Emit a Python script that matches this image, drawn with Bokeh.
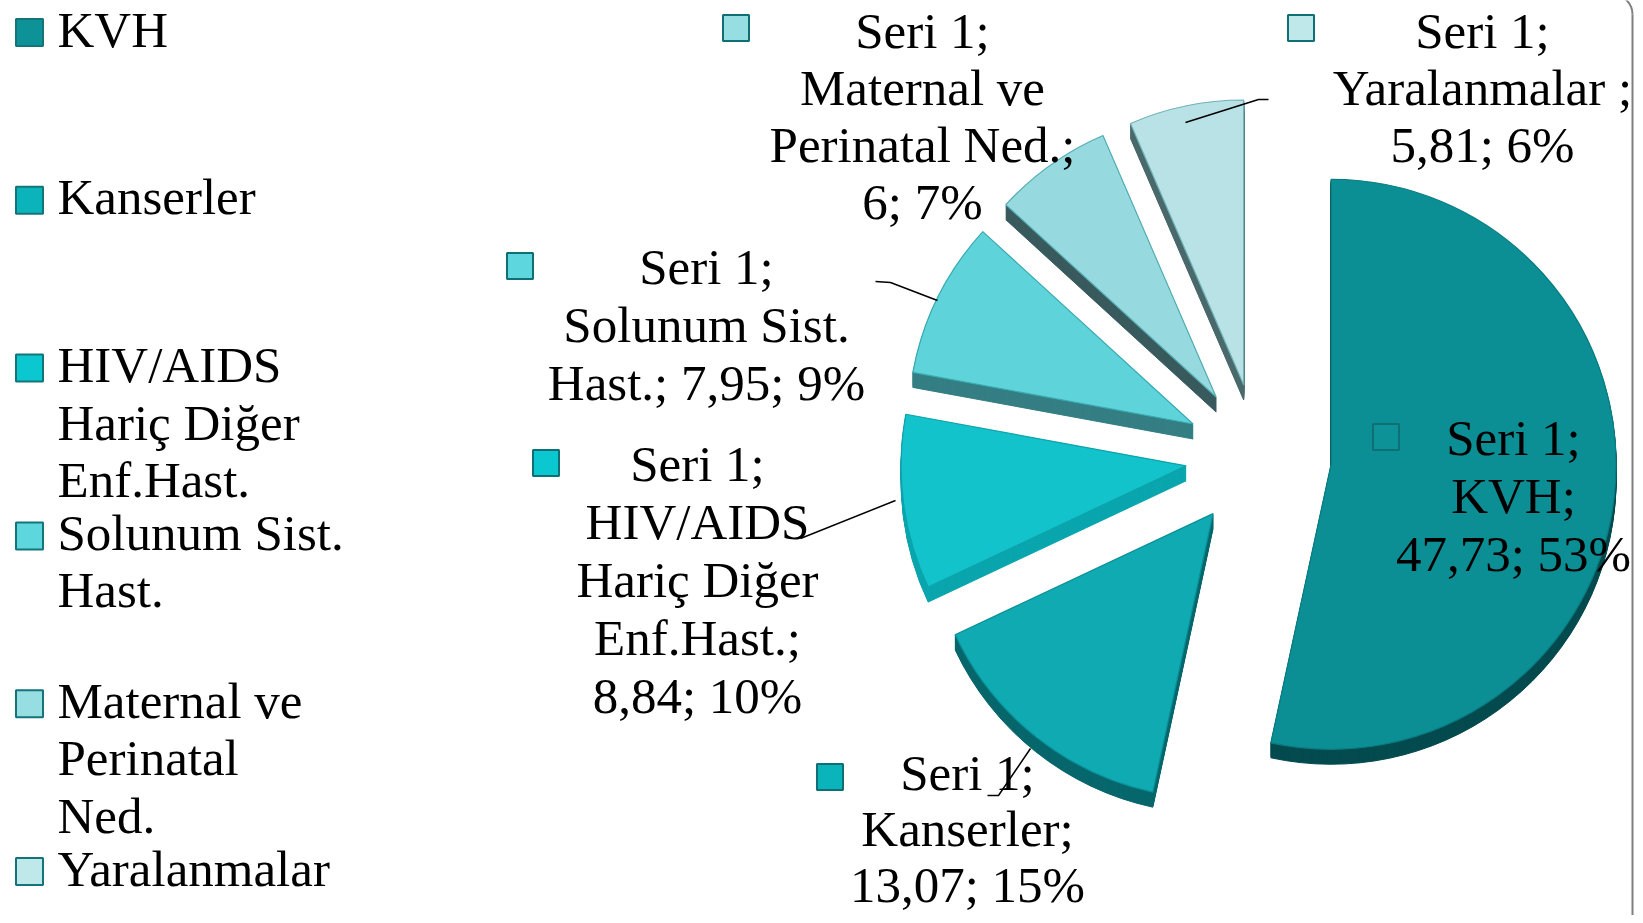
import math
from bokeh.plotting import figure
from bokeh.models import Range1d, ColumnDataSource
from bokeh.core.properties import value
from bokeh.embed import file_html
from bokeh.resources import INLINE

# ---------------- data ----------------
categories = ["KVH", "Kanserler", "HIV/AIDS Hariç Diğer Enf.Hast.",
              "Solunum Sist. Hast.", "Maternal ve Perinatal Ned.", "Yaralanmalar"]
values = [47.73, 13.07, 8.84, 7.95, 6.0, 5.81]
series_name = "Seri 1"
legend_lines = [["KVH"], ["Kanserler"], ["HIV/AIDS", "Hariç Diğer", "Enf.Hast."],
                ["Solunum Sist.", "Hast."], ["Maternal ve", "Perinatal", "Ned."],
                ["Yaralanmalar"]]
label_templates = ["{s};\nKVH;\n{v}; {p}%",
                   "{s};\nKanserler;\n{v}; {p}%",
                   "{s};\nHIV/AIDS\nHariç Diğer\nEnf.Hast.;\n{v}; {p}%",
                   "{s};\nSolunum Sist.\nHast.; {v}; {p}%",
                   "{s};\nMaternal ve\nPerinatal Ned.;\n{v}; {p}%",
                   "{s};\nYaralanmalar ;\n{v}; {p}%"]

# ---------------- styles ----------------
top_colors = ["#0b8e94", "#0faab2", "#13c3cb", "#5fd3da", "#96dadf", "#b8e2e6"]
side_colors = ["#044b4f", "#07676c", "#0aa6ae", "#357f84", "#3a5b5e", "#4b6a6c"]
edge_colors = ["#0a7d83", "#0b8f96", "#0da3ab", "#3aaab1", "#56aeb3", "#6fb2b7"]
legend_colors = ["#0d9397", "#0bb4bb", "#0bc8d0", "#5dd7dd", "#97dee3", "#bfe8eb"]
FONT = value("Liberation Serif")
FS = "51px"
MID = 17   # baseline -> text middle

# layout (reference pixel coordinates)
W, H = 1635, 915
PIE_CX, PIE_CY = 1258, 456
R = 285
EXPLODE = 73
DEPTH = 15
label_pos = [(1513, 454), (967, 789), (697, 480), (706, 283), (922, 47), (1482, 47)]
label_step = [58, 56, 58, 58, 57, 57]
label_sq = [(1372, 423), (816, 763), (532, 449), (506, 252), (722, 14), (1287, 14)]
leaders = [[], [(987, 795), (998, 795), (1030, 748)], [(800, 538), (895, 500)],
           [(875, 281), (890, 282), (937, 300)], [],
           [(1185, 122), (1258, 99), (1268, 99)]]

p = figure(width=W, height=H, x_range=Range1d(0, W),
           y_range=Range1d(-H, 0), output_backend="svg",
           toolbar_location=None, min_border=0, x_axis_type=None, y_axis_type=None)
p.grid.visible = False
p.outline_line_color = None
p.background_fill_color = "white"

# ---------------- pie ----------------
total = sum(values)
starts, ends, mids = [], [], []
acc = 0.0
for v in values:
    a0 = acc / total * 360.0
    acc += v
    a1 = acc / total * 360.0
    starts.append(a0); ends.append(a1); mids.append((a0 + a1) / 2)

cx = [PIE_CX + EXPLODE * math.sin(math.radians(m)) for m in mids]
cy = [-PIE_CY + EXPLODE * math.cos(math.radians(m)) for m in mids]
sa = [math.radians(90 - e) for e in ends]
ea = [math.radians(90 - s) for s in starts]

side = dict(x=[], y=[], sa=[], ea=[], c=[])
for d in range(DEPTH, 0, -1):
    for i in range(len(values)):
        side["x"].append(cx[i]); side["y"].append(cy[i] - d)
        side["sa"].append(sa[i]); side["ea"].append(ea[i]); side["c"].append(side_colors[i])
p.wedge(x="x", y="y", radius=R, start_angle="sa", end_angle="ea", source=ColumnDataSource(side),
        fill_color="c", line_color="c", line_width=1)

p.wedge(x=cx, y=cy, radius=R, start_angle=sa, end_angle=ea,
        fill_color=top_colors, line_color=edge_colors, line_width=1.2)

# ---------------- data labels ----------------
def fmt(v):
    return f"{v:g}".replace(".", ",")

tx, ty, tt = [], [], []
for i, v in enumerate(values):
    pct = round(v / total * 100)
    lines = label_templates[i].format(s=series_name, v=fmt(v), p=pct).split("\n")
    x0, y0 = label_pos[i]
    for j, ln in enumerate(lines):
        tx.append(x0); ty.append(-(y0 + j * label_step[i] - MID)); tt.append(ln)
p.text(x=tx, y=ty, text=tt, text_font=FONT, text_font_size=FS, text_align="center",
       text_baseline="middle", text_color="black")

sq_x = [s[0] + 13.5 for s in label_sq]
sq_y = [-(s[1] + 13.5) for s in label_sq]
p.rect(x=sq_x, y=sq_y, width=26, height=26, fill_color=legend_colors,
       line_color="#0f6f74", line_width=2)

lx, ly = [], []
for ld in leaders:
    if ld:
        lx.append([q[0] for q in ld]); ly.append([-q[1] for q in ld])
p.multi_line(xs=lx, ys=ly, line_color="black", line_width=1.5)

# ---------------- legend ----------------
gx, gy, gt = [], [], []
bx, by = [], []
for i, lines in enumerate(legend_lines):
    base = 46 + 167.8 * i
    bx.append(29); by.append(-(base - 14))
    for j, ln in enumerate(lines):
        gx.append(57); gy.append(-(base + 57.5 * j - MID)); gt.append(ln)
p.rect(x=bx, y=by, width=27, height=27, fill_color=legend_colors,
       line_color="#137479", line_width=2)
p.text(x=gx, y=gy, text=gt, text_font=FONT, text_font_size=FS, text_align="left",
       text_baseline="middle", text_color="black")

# ---------------- frame ----------------
p.segment(x0=[1632], y0=[-14], x1=[1632], y1=[-930], line_color="#7f7f7f", line_width=2)
p.arc(x=[1612], y=[-14], radius=20, start_angle=0, end_angle=math.pi / 2,
      line_color="#7f7f7f", line_width=2)

open("out.html", "w").write(file_html(p, INLINE))
